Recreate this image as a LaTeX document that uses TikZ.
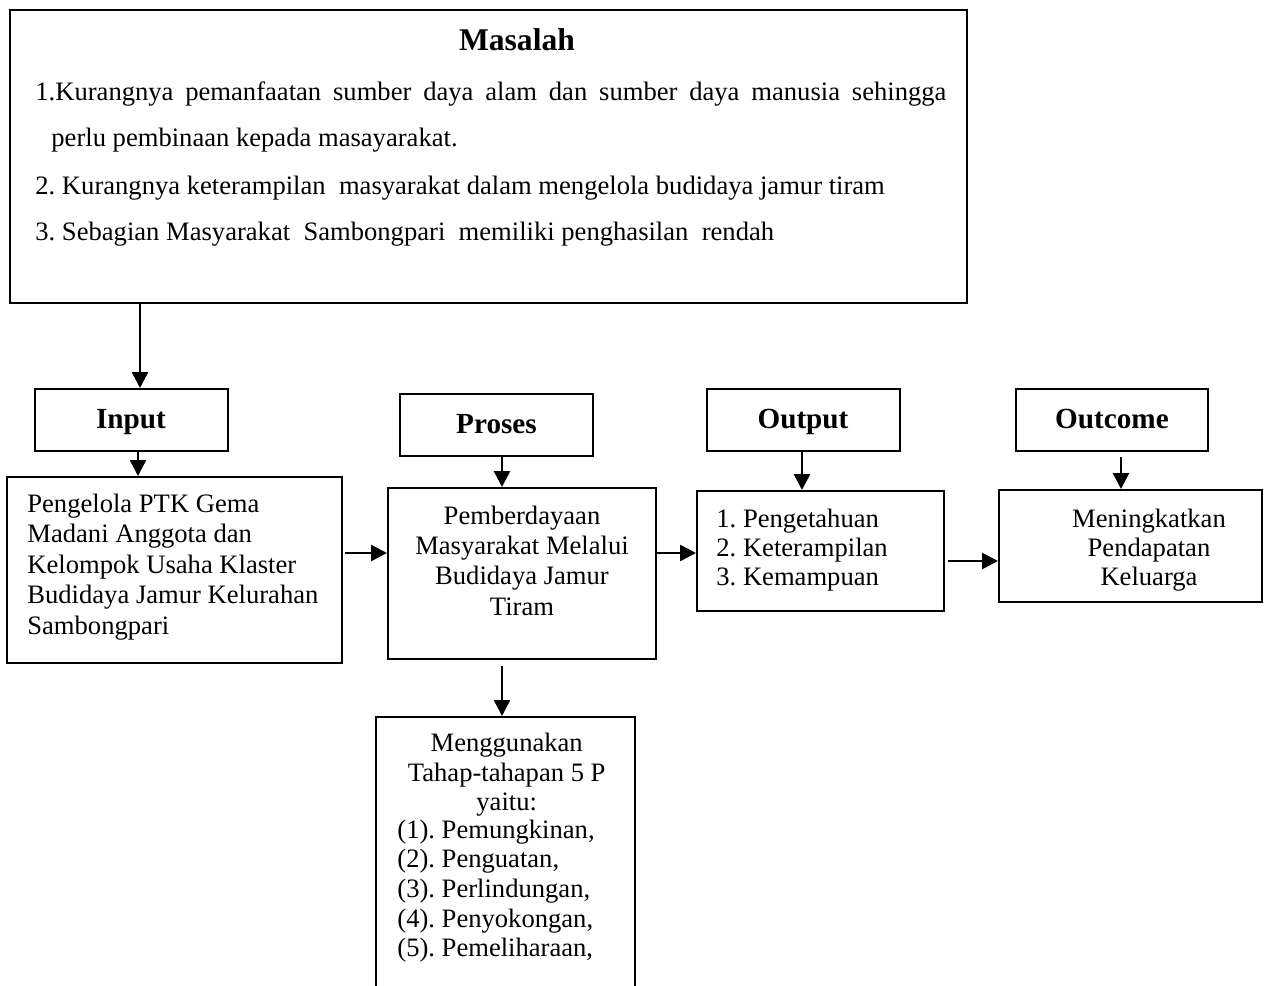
\documentclass[tikz,border=0pt]{standalone}
\usepackage{fontspec}
\setmainfont{Liberation Serif}
\usetikzlibrary{arrows.meta,fit}
\newcommand\blk[2]{\begin{tabular}[t]{@{}#1@{}}#2\end{tabular}}
\frenchspacing
\begin{document}
\frenchspacing
\begin{tikzpicture}[x=0.5pt,y=-0.5pt,
  box/.style={draw,line width=1pt,inner sep=0pt,fit={#1}},
  arr/.style={line width=1.3pt,-{Triangle[length=8pt,width=8pt]}},
  body/.style={inner sep=0pt,font=\fontsize{13.3}{#1}\selectfont},
  body/.default=15.3pt,
  hd/.style={inner sep=0pt,anchor=base,font=\bfseries\fontsize{14.6}{17}\selectfont}]
\useasboundingbox (0,0) rectangle (1266,986);
\clip (0,0) rectangle (1266,986);
% boxes
\node[box={(10,10)(967,303)}] (masalah) {};
\node[box={(35,389)(228,451)}] (input) {};
\node[box={(400,394)(593,456)}] (proses) {};
\node[box={(707,389)(900,451)}] (output) {};
\node[box={(1016,389)(1208,451)}] (outcome) {};
\node[box={(7,477)(342,663)}] (pengelola) {};
\node[box={(388,488)(656,659)}] (pemberdayaan) {};
\node[box={(697,491)(944,611)}] (hasil) {};
\node[box={(999,490)(1262,602)}] (dampak) {};
\node[box={(376,717)(635,1010)}] (tahap) {};
% Masalah texts
\node[inner sep=0pt,anchor=base,font=\bfseries\fontsize{15.8}{18}\selectfont] (mtitle) at (517,50) {Masalah};
\node[body,anchor=base west] (m1) at (35,100) {\makebox[455.5pt][s]{1.Kurangnya pemanfaatan sumber daya alam dan sumber daya manusia sehingga}};
\node[body,anchor=base west] (m2) at (51,146.7) {perlu pembinaan kepada masayarakat.};
\node[body,anchor=base west] (m3) at (35,194) {2. Kurangnya keterampilan\ \ masyarakat dalam mengelola budidaya jamur tiram};
\node[body,anchor=base west] (m4) at (35,240) {3. Sebagian Masyarakat\ \ Sambongpari\ \ memiliki penghasilan\ \ rendah};
% headers
\node[hd] (tinput) at (131,428) {Input};
\node[hd] (tproses) at (496.5,433) {Proses};
\node[hd] (toutput) at (803,428) {Output};
\node[hd] (toutcome) at (1112,428) {Outcome};
% box texts
\node[body,anchor=base west] (tpengelola) at (27,512) {\blk{l}{Pengelola PTK Gema\\Madani Anggota dan\\Kelompok Usaha Klaster\\Budidaya Jamur Kelurahan\\Sambongpari}};
\node[body=15.2pt,anchor=base] (tpember) at (522,524) {\blk{c}{Pemberdayaan\\Masyarakat Melalui\\Budidaya Jamur\\Tiram}};
\node[body=14.5pt,anchor=base west] (thasil) at (716,527.7) {\blk{l}{1. Pengetahuan\\2. Keterampilan\\3. Kemampuan}};
\node[body=14.5pt,anchor=base] (tdampak) at (1149,527.7) {\blk{c}{Meningkatkan\\Pendapatan\\Keluarga}};
\node[body=14.8pt,anchor=base] (ttahap1) at (506.7,751.7) {\blk{c}{Menggunakan\\Tahap-tahapan 5 P\\yaitu:}};
\node[body=14.85pt,anchor=base west] (ttahap2) at (397,838) {\blk{l}{(1). Pemungkinan,\\(2). Penguatan,\\(3). Perlindungan,\\(4). Penyokongan,\\(5). Pemeliharaan,}};
% arrows
\draw[arr] (masalah.south -| 140,0) -- (input.north -| 140,0);
\draw[arr] (input.south -| 138,0) -- (pengelola.north -| 138,0);
\draw[arr] (proses.south -| 502,0) -- (pemberdayaan.north -| 502,0);
\draw[arr] (output.south -| 802,0) -- (hasil.north -| 802,0);
\draw[arr] (1121,457) -- (dampak.north -| 1121,0);
\draw[arr] (345,553) -- (pemberdayaan.west |- 0,553);
\draw[arr] (pemberdayaan.east |- 0,553) -- (hasil.west |- 0,553);
\draw[arr] (948,561) -- (dampak.west |- 0,561);
\draw[arr] (pemberdayaan.south -| 502,0) ++(0,6) -- (tahap.north -| 502,0);
\end{tikzpicture}
\end{document}
